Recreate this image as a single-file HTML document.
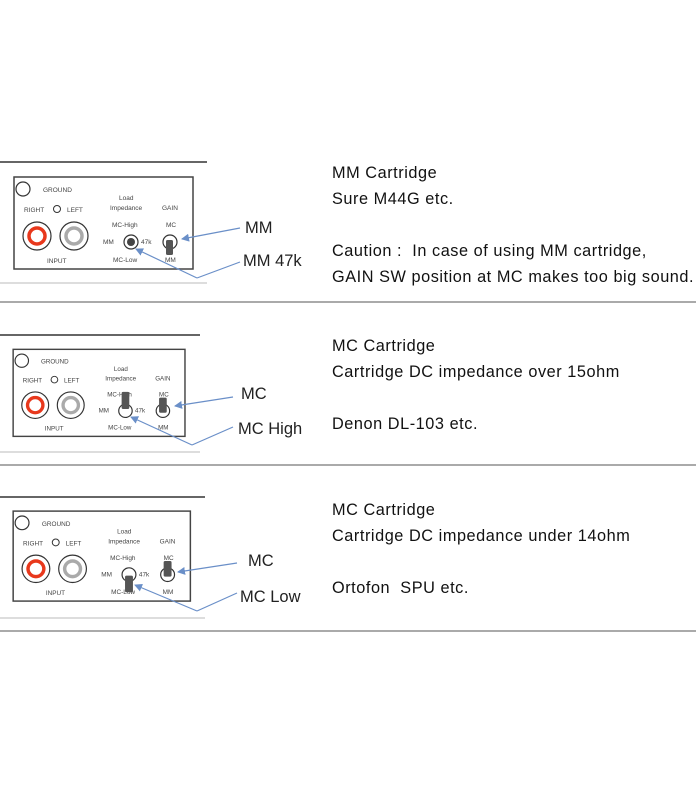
<!DOCTYPE html>
<html><head><style>
body{margin:0;background:#fff;width:700px;height:800px;overflow:hidden;font-family:"Liberation Sans",sans-serif}
.t{position:absolute;left:332px;font-size:16.3px;letter-spacing:0.55px;color:#111;line-height:1}
</style></head><body>
<svg width="700" height="800" style="position:absolute;left:0;top:0" font-family="Liberation Sans, sans-serif">
<defs>
<marker id="ah" markerWidth="8" markerHeight="8" refX="7" refY="4" orient="auto" markerUnits="userSpaceOnUse"><path d="M0,0 L8,4 L0,8 z" fill="#6a8fc8"/></marker>
<g id="base">
<rect x="14" y="177" width="179" height="92" fill="#fff" stroke="#444" stroke-width="1.5"/>
<circle cx="23" cy="189" r="7" fill="none" stroke="#333" stroke-width="1.2"/>
<g font-size="6.5" fill="#444">
<text x="43" y="192">GROUND</text>
<text x="24" y="212">RIGHT</text>
<text x="67" y="212">LEFT</text>
<text x="47" y="263">INPUT</text>
<text x="119" y="200">Load</text>
<text x="110" y="210">Impedance</text>
<text x="162" y="210">GAIN</text>
<text x="112" y="227">MC-High</text>
<text x="166" y="227">MC</text>
<text x="103" y="244">MM</text>
<text x="141" y="244">47k</text>
<text x="113" y="262">MC-Low</text>
<text x="165" y="262">MM</text>
</g>
<circle cx="57" cy="209" r="3.5" fill="none" stroke="#333"/>
<circle cx="37" cy="236" r="14" fill="none" stroke="#333" stroke-width="1.2"/>
<circle cx="37" cy="236" r="8" fill="none" stroke="#e8381c" stroke-width="3.5"/>
<circle cx="74" cy="236" r="14" fill="none" stroke="#333" stroke-width="1.2"/>
<circle cx="74" cy="236" r="8" fill="none" stroke="#aaa" stroke-width="3.5"/>
<circle cx="131" cy="242" r="7" fill="none" stroke="#333" stroke-width="1.2"/>
<circle cx="170" cy="242" r="7" fill="none" stroke="#333" stroke-width="1.2"/>
</g>
</defs>
<g stroke="#333" stroke-width="1.5">
<line x1="0" y1="162" x2="207" y2="162"/>
<line x1="0" y1="335" x2="200" y2="335"/>
<line x1="0" y1="497" x2="205" y2="497"/>
</g>
<g stroke="#bbb" stroke-width="1">
<line x1="0" y1="283" x2="207" y2="283"/>
<line x1="0" y1="452" x2="200" y2="452"/>
<line x1="0" y1="618" x2="205" y2="618"/>
</g>
<g stroke="#555" stroke-width="1">
<line x1="0" y1="302" x2="696" y2="302"/>
<line x1="0" y1="465" x2="696" y2="465"/>
<line x1="0" y1="631" x2="696" y2="631"/>
</g>
<use href="#base"/>
<circle cx="131" cy="242" r="4" fill="#444"/>
<rect x="166" y="240" width="7" height="15" rx="1.5" fill="#555"/>
<g transform="translate(-0.3,181.9) scale(0.96,0.946)">
<use href="#base"/>
<rect x="127" y="222" width="8" height="18" rx="1.5" fill="#555"/>
<rect x="166" y="228" width="8" height="16" rx="1.5" fill="#555"/>
</g>
<g transform="translate(-0.7,338) scale(0.99,0.978)">
<use href="#base"/>
<rect x="127" y="243" width="8" height="17" rx="1.5" fill="#555"/>
<rect x="166" y="228" width="8" height="16" rx="1.5" fill="#555"/>
</g>
<g stroke="#6a8fc8" stroke-width="1.2" fill="none">
<line x1="240" y1="228" x2="182" y2="239" marker-end="url(#ah)"/>
<line x1="240" y1="262" x2="197" y2="278"/>
<line x1="197" y1="278" x2="136" y2="249" marker-end="url(#ah)"/>
<line x1="233" y1="397" x2="175" y2="406" marker-end="url(#ah)"/>
<line x1="233" y1="427" x2="192" y2="445"/>
<line x1="192" y1="445" x2="131" y2="417" marker-end="url(#ah)"/>
<line x1="237" y1="563" x2="178" y2="572" marker-end="url(#ah)"/>
<line x1="237" y1="593" x2="197" y2="611"/>
<line x1="197" y1="611" x2="135" y2="585" marker-end="url(#ah)"/>
</g>
<g font-size="16.5" fill="#222">
<text x="245" y="233">MM</text>
<text x="243" y="266">MM 47k</text>
<text x="241" y="399">MC</text>
<text x="238" y="434">MC High</text>
<text x="248" y="566">MC</text>
<text x="240" y="602">MC Low</text>
</g>
</svg>
<div class="t" style="top:165px">MM Cartridge</div>
<div class="t" style="top:191px">Sure M44G etc.</div>
<div class="t" style="top:243px">Caution :&nbsp; In case of using MM cartridge,</div>
<div class="t" style="top:269px">GAIN SW position at MC makes too big sound.</div>
<div class="t" style="top:338px">MC Cartridge</div>
<div class="t" style="top:364px">Cartridge DC impedance over 15ohm</div>
<div class="t" style="top:416px">Denon DL-103 etc.</div>
<div class="t" style="top:502px">MC Cartridge</div>
<div class="t" style="top:528px">Cartridge DC impedance under 14ohm</div>
<div class="t" style="top:580px">Ortofon&nbsp; SPU etc.</div>
</body></html>
